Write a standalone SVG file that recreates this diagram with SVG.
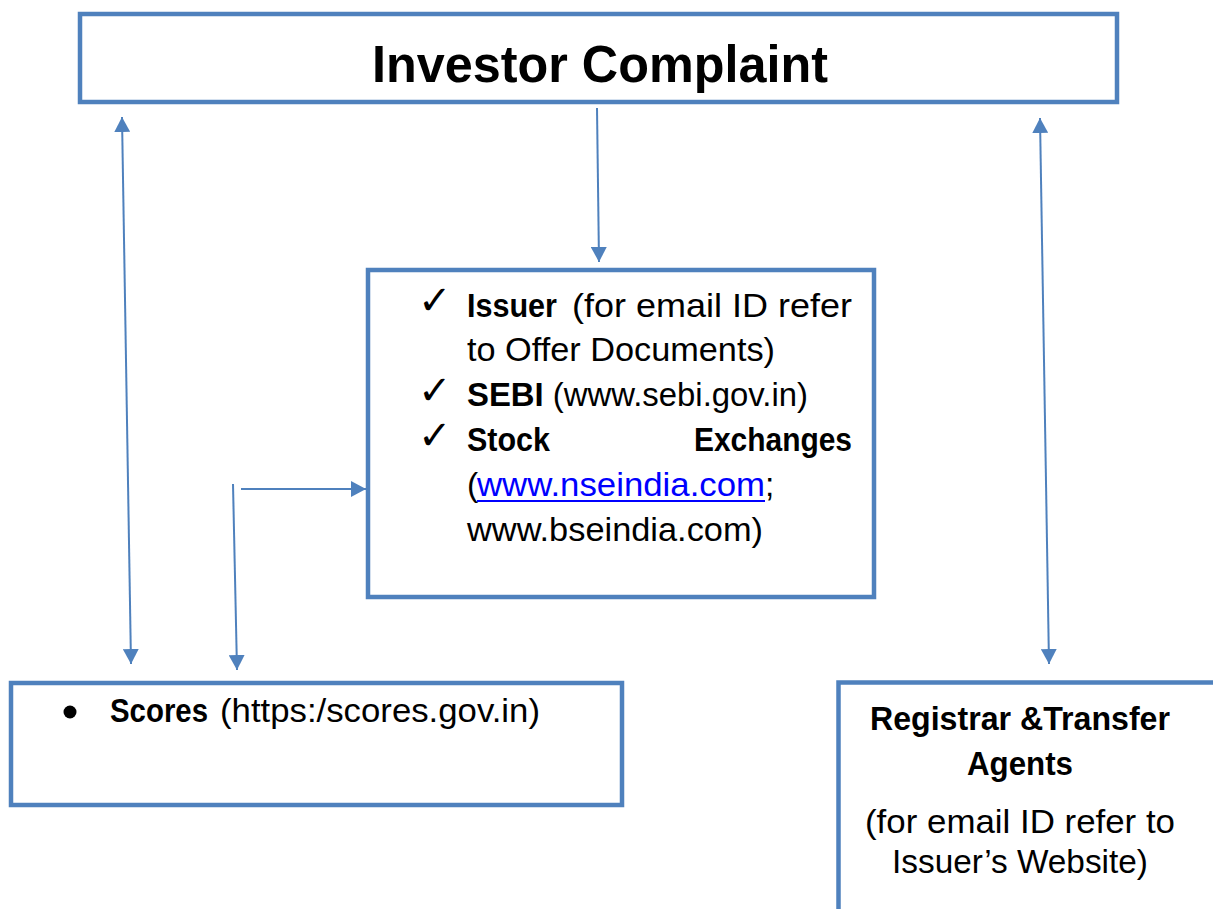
<svg xmlns="http://www.w3.org/2000/svg" width="1213" height="909" viewBox="0 0 1213 909">
<style>
.box{fill:#ffffff;stroke:#4F81BD;stroke-width:4.5}
.con{stroke:#4F81BD;stroke-width:2;fill:none}
.t{font-family:"Liberation Sans",Arial,sans-serif;font-size:33.5px;fill:#000}
.b{font-weight:bold}
.chk{font-family:"DejaVu Sans",sans-serif;font-size:40px;fill:#000}
.link{fill:#0000FF}
</style>
<defs>
<marker id="ah" viewBox="0 0 15 16" refX="15" refY="8" markerWidth="15" markerHeight="16" markerUnits="userSpaceOnUse" orient="auto-start-reverse">
<path d="M0,0 L15,8 L0,16 z" fill="#4F81BD"/>
</marker>
</defs>
<rect width="1213" height="909" fill="#ffffff"/>
<g id="investor-complaint">
<rect class="box" x="80" y="14" width="1037" height="88"/>
<text class="t b" x="372" y="82" style="font-size:52px" textLength="456" lengthAdjust="spacingAndGlyphs">Investor Complaint</text>
</g>
<g id="issuer-sebi-exchanges">
<rect class="box" x="368" y="270" width="506" height="327"/>
<text class="chk" x="418" y="314">✓</text>
<text class="t b" x="467" y="317" textLength="90" lengthAdjust="spacingAndGlyphs">Issuer</text>
<text class="t" x="572" y="317" textLength="280" lengthAdjust="spacingAndGlyphs">(for email ID refer</text>
<text class="t" x="467" y="361" textLength="308" lengthAdjust="spacingAndGlyphs">to Offer Documents)</text>
<text class="chk" x="418" y="404">✓</text>
<text class="t" x="467" y="406" textLength="341" lengthAdjust="spacingAndGlyphs"><tspan class="b">SEBI</tspan> (www.sebi.gov.in)</text>
<text class="chk" x="418" y="449">✓</text>
<text class="t b" x="467" y="451" textLength="83" lengthAdjust="spacingAndGlyphs">Stock</text>
<text class="t b" x="694" y="451" textLength="158" lengthAdjust="spacingAndGlyphs">Exchanges</text>
<text class="t" x="467" y="496">(</text>
<text class="t link" x="477" y="496" textLength="288" lengthAdjust="spacingAndGlyphs">www.nseindia.com</text>
<line x1="477" y1="501" x2="765" y2="501" stroke="#0000FF" stroke-width="2"/>
<text class="t" x="765" y="496">;</text>
<text class="t" x="467" y="541" textLength="296" lengthAdjust="spacingAndGlyphs">www.bseindia.com)</text>
</g>
<g id="scores">
<rect class="box" x="11" y="683" width="611" height="122"/>
<circle cx="70" cy="712" r="6.5" fill="#000"/>
<text class="t b" x="110" y="722" textLength="98" lengthAdjust="spacingAndGlyphs">Scores</text>
<text class="t" x="220" y="722" textLength="320" lengthAdjust="spacingAndGlyphs">(https:/scores.gov.in)</text>
</g>
<g id="registrar-transfer-agents">
<rect class="box" x="838.5" y="682.5" width="420" height="300"/>
<text class="t b" x="1020" y="730" text-anchor="middle" textLength="300" lengthAdjust="spacingAndGlyphs">Registrar &amp;Transfer</text>
<text class="t b" x="1020" y="775" text-anchor="middle" textLength="106" lengthAdjust="spacingAndGlyphs">Agents</text>
<text class="t" x="1020" y="833" text-anchor="middle" textLength="310" lengthAdjust="spacingAndGlyphs">(for email ID refer to</text>
<text class="t" x="1020" y="873" text-anchor="middle" textLength="256" lengthAdjust="spacingAndGlyphs">Issuer’s Website)</text>
</g>
<g id="connectors">
<line class="con" x1="122" y1="117" x2="131" y2="664" marker-start="url(#ah)" marker-end="url(#ah)"/>
<line class="con" x1="597" y1="108" x2="599" y2="262" marker-end="url(#ah)"/>
<line class="con" x1="233" y1="484" x2="237" y2="670" marker-end="url(#ah)"/>
<line class="con" x1="241" y1="489" x2="366" y2="489" marker-end="url(#ah)"/>
<line class="con" x1="1040" y1="118" x2="1049" y2="664" marker-start="url(#ah)" marker-end="url(#ah)"/>
</g>
</svg>
